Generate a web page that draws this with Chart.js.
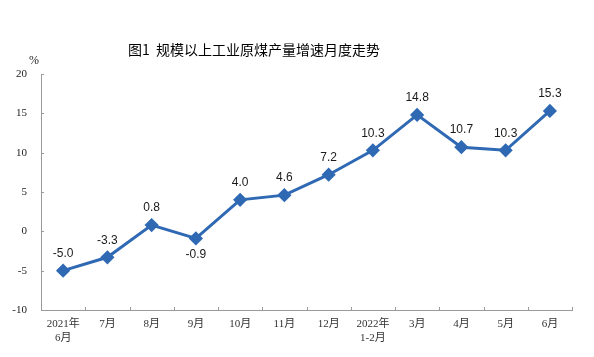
<!DOCTYPE html>
<html>
<head>
<meta charset="utf-8">
<script src="https://cdn.jsdelivr.net/npm/chart.js@4/dist/chart.umd.min.js"></script>
<style>
  html, body { margin: 0; padding: 0; background: #fff; }
  #wrap { width: 594px; height: 357px; position: relative; }
</style>
</head>
<body>
<div id="wrap"><canvas id="c" width="594" height="357"></canvas></div>
<script>
const categories = [["2021年", "6月"], "7月", "8月", "9月", "10月", "11月", "12月", ["2022年", "1-2月"], "3月", "4月", "5月", "6月"];
const growth = [-5.0, -3.3, 0.8, -0.9, 4.0, 4.6, 7.2, 10.3, 14.8, 10.7, 10.3, 15.3];
const yTicks = [-10, -5, 0, 5, 10, 15, 20];
const titleText = "图1  规模以上工业原煤产量增速月度走势";
const unitText = "%";

const lineColor = "#2f69b3";
const axisColor = "#9a9a9a";

const labelPlugin = {
  id: "valueLabels",
  afterDatasetsDraw(chart) {
    const ctx = chart.ctx;
    const meta = chart.getDatasetMeta(0);
    ctx.save();
    ctx.font = "12px 'Liberation Sans', Arial, sans-serif";
    ctx.fillStyle = "#1a1a1a";
    ctx.textAlign = "center";
    ctx.textBaseline = "middle";
    meta.data.forEach((pt, i) => {
      const v = growth[i];
      const below = i === 3;
      const y = below ? pt.y + 16 : pt.y - 17;
      ctx.fillText(v.toFixed(1), pt.x, y);
    });
    ctx.restore();
  }
};

const innerTicks = {
  id: "innerTicks",
  afterDraw(chart) {
    const ctx = chart.ctx;
    const xs = chart.scales.x, ys = chart.scales.y;
    ctx.save();
    ctx.strokeStyle = axisColor;
    ctx.lineWidth = 1;
    ctx.beginPath();
    for (let i = 0; i <= categories.length; i++) {
      const x = Math.round(xs.getPixelForValue(i - 0.5)) + 0.5;
      ctx.moveTo(x, xs.top);
      ctx.lineTo(x, xs.top - 3);
    }
    yTicks.forEach(v => {
      const y = Math.round(ys.getPixelForValue(v)) + 0.5;
      ctx.moveTo(ys.right, y);
      ctx.lineTo(ys.right + 3, y);
    });
    ctx.stroke();
    ctx.restore();
  }
};

const textPlugin = {
  id: "titleText",
  afterDraw(chart) {
    const ctx = chart.ctx;
    ctx.save();
    ctx.fillStyle = "#000";
    ctx.textAlign = "center";
    ctx.textBaseline = "middle";
    ctx.font = "14px 'Noto Sans CJK SC', sans-serif";
    ctx.fillText(titleText, 254, 50);
    ctx.font = "12px 'Liberation Serif', 'Times New Roman', serif";
    ctx.fillStyle = "#222";
    ctx.fillText(unitText, 34, 61);
    ctx.restore();
  }
};

new Chart(document.getElementById("c"), {
  type: "line",
  data: {
    labels: categories,
    datasets: [{
      data: growth,
      borderColor: lineColor,
      backgroundColor: lineColor,
      borderWidth: 3,
      pointStyle: "rectRot",
      pointRadius: 5,
      pointHoverRadius: 5,
      pointBackgroundColor: lineColor,
      pointBorderColor: lineColor,
      tension: 0,
      clip: false
    }]
  },
  options: {
    responsive: false,
    animation: false,
    devicePixelRatio: 1,
    layout: { padding: { left: 0, right: 22, top: 74, bottom: 0 } },
    plugins: {
      legend: { display: false },
      title: { display: false },
      tooltip: { enabled: false }
    },
    scales: {
      x: {
        offset: true,
        grid: { display: false, drawTicks: false },
        border: { color: axisColor, width: 1 },
        ticks: {
          autoSkip: false,
          maxRotation: 0,
          padding: 7,
          color: "#333",
          font: { family: "'Liberation Serif', 'Noto Sans CJK SC', serif", size: 11, lineHeight: 1.3 }
        },
        afterFit(scale) { scale.height = 47; }
      },
      y: {
        min: -10,
        max: 20,
        afterBuildTicks(scale) { scale.ticks = yTicks.map(v => ({ value: v })); },
        grid: { display: false, drawTicks: false },
        border: { color: axisColor, width: 1 },
        ticks: {
          padding: 14,
          color: "#222",
          font: { family: "'Liberation Serif', 'Times New Roman', serif", size: 11 }
        },
        afterFit(scale) { scale.width = 41; }
      }
    }
  },
  plugins: [labelPlugin, innerTicks, textPlugin]
});
</script>
</body>
</html>
